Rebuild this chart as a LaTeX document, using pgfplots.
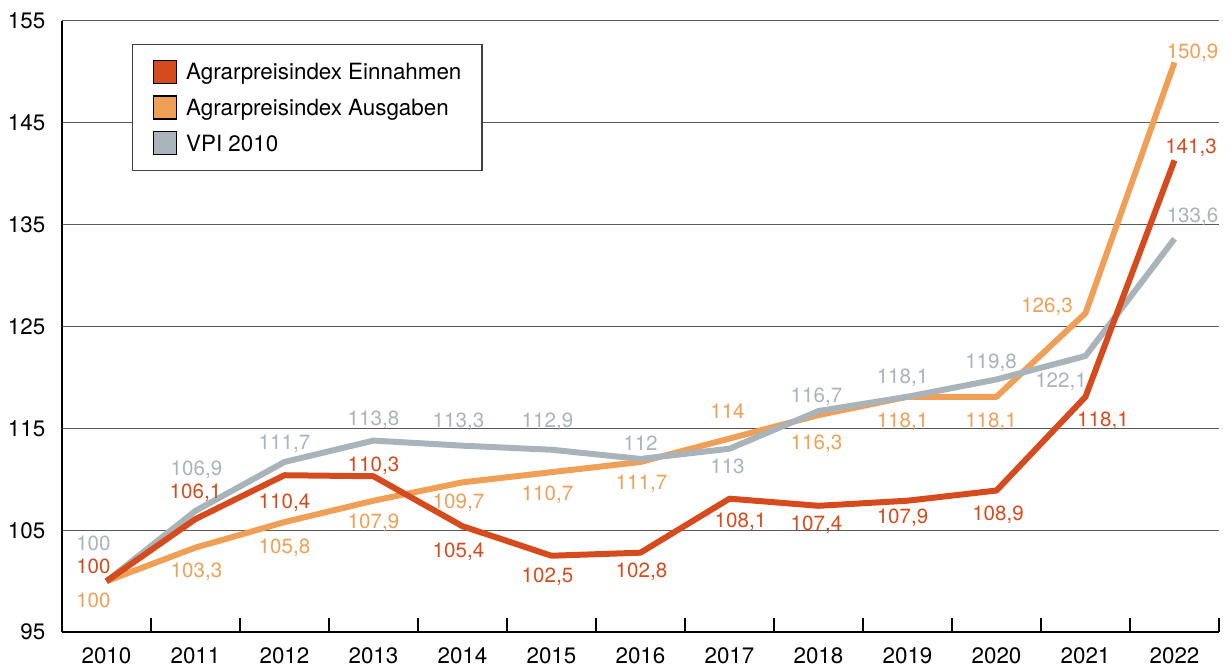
\documentclass[border=0pt]{standalone}
\usepackage{fontspec}
\setmainfont{TeX Gyre Heros}
\usepackage{pgfplots}
\pgfplotsset{compat=1.18}
\usepackage{pgfplotstable}
\definecolor{ered}{HTML}{D64B1D}
\definecolor{aorange}{HTML}{F0A056}
\definecolor{vgray}{HTML}{A8B4BA}

% lab = text/dx/dy  (offsets of label centre from the point, in pt)
\pgfplotstableread{
x y lab
2010 100 100/-6.5/7.75
2011 106.1 106,1/0/14
2012 110.4 110,4/0/-12.75
2013 110.3 110,3/0/6.25
2014 105.4 105,4/-2/-12
2015 102.5 102,5/-2/-9.5
2016 102.8 102,8/0.5/-8.8
2017 108.1 108,1/5.5/-10.8
2018 107.4 107,4/-1/-8.5
2019 107.9 107,9/-2.5/-7.5
2020 108.9 108,9/0.75/-11.15
2021 118.1 118,1/8.75/-11.3
2022 141.3 141,3/8.25/7
}\tblE

\pgfplotstableread{
x y lab
2010 100 100/-6.5/-9.25
2011 103.3 103,3/0.5/-11.35
2012 105.8 105,8/0/-12.25
2013 107.9 107,9/0/-10.3
2014 109.7 109,7/-2/-9.25
2015 110.7 110,7/-2/-10.25
2016 111.7 111,7/0.5/-10.25
2017 114 114/-1/13.75
2018 116.3 116,3/-1/-13.75
2019 118.1 118,1/-2.5/-11.5
2020 118.1 118,1/-2.75/-11.5
2021 126.3 126,3/-19.25/4.25
2022 150.9 150,9/9/5.75
}\tblA

\pgfplotstableread{
x y lab
2010 100 100/-6.5/19.25
2011 106.9 106,9/0.5/21.5
2012 111.7 111,7/0/9.75
2013 113.8 113,8/0/11.25
2014 113.3 113,3/-2/13
2015 112.9 112,9/-2/15
2016 112 112/0/8
2017 113 113/-1/-8.5
2018 116.7 116,7/-1/8
2019 118.1 118,1/-2.5/10.5
2020 119.8 119,8/-2.75/9.25
2021 122.1 122,1/-12.25/-12
2022 133.6 133,6/9/12
}\tblV

\def\mylab#1/#2/#3\relax{\raisebox{\dimexpr#3pt-3.7pt\relax}[0pt][0pt]{\makebox[0pt][c]{\hspace*{#2pt}\hspace*{#2pt}#1}}}

\pgfplotsset{
  labelled/.style={
    line width=3pt, line join=round,
    point meta=explicit symbolic,
    nodes near coords={\expandafter\mylab\pgfplotspointmeta\relax},
    every node near coord/.append style={anchor=center, inner sep=0pt,
      font=\fontsize{10.3}{12}\selectfont, text=#1},
    forget plot
  }
}

\begin{document}
\begin{tikzpicture}
\useasboundingbox (-31pt,-18pt) rectangle (584.5pt,316.35pt);
\begin{axis}[
  scale only axis, width=579pt, height=306pt,
  xmin=2009.5, xmax=2022.5, ymin=95, ymax=155,
  axis x line*=bottom, axis y line*=left,
  axis line style={black, line width=0.85pt},
  xtick={2010,2011,2012,2013,2014,2015,2016,2017,2018,2019,2020,2021,2022},
  xticklabels={2010,2011,2012,2013,2014,2015,2016,2017,2018,2019,2020,2021,2022},
  minor xtick={2010.5,2011.5,2012.5,2013.5,2014.5,2015.5,2016.5,2017.5,2018.5,2019.5,2020.5,2021.5,2022.5},
  major tick length=0pt,
  minor tick length=7pt,
  tick align=inside,
  minor tick style={black, line width=0.85pt},
  ytick={95,105,115,125,135,145,155},
  ymajorgrids, major grid style={black!65, line width=0.55pt},
  ticklabel style={font=\fontsize{11.2}{13}\selectfont},
  /pgf/number format/assume math mode=true,
  xticklabel style={yshift=-4.3pt},
  yticklabel style={xshift=-4.8pt},
  legend cell align=left,
  legend image code/.code={\fill[#1] (0pt,-5.75pt) rectangle (11.5pt,5.75pt);},
  legend style={at={(0.0604,0.9624)}, anchor=north west, draw=black!75,
    line width=0.6pt, inner xsep=10.3pt, inner ysep=7.7pt, row sep=5.75pt,
    column sep=4.5pt, font=\fontsize{11.2}{13}\selectfont,
    nodes={inner sep=0pt, text height=9pt, text depth=1pt}},
  clip=false,
]
\addlegendimage{fill=ered}
\addlegendentry{Agrarpreisindex Einnahmen}
\addlegendimage{fill=aorange}
\addlegendentry{Agrarpreisindex Ausgaben}
\addlegendimage{fill=vgray}
\addlegendentry{VPI 2010}

\addplot[aorange, labelled=aorange] table[x=x, y=y, meta=lab]{\tblA};
\addplot[vgray, labelled=vgray] table[x=x, y=y, meta=lab]{\tblV};
\addplot[ered, labelled=ered] table[x=x, y=y, meta=lab]{\tblE};
\end{axis}
\end{tikzpicture}
\end{document}
